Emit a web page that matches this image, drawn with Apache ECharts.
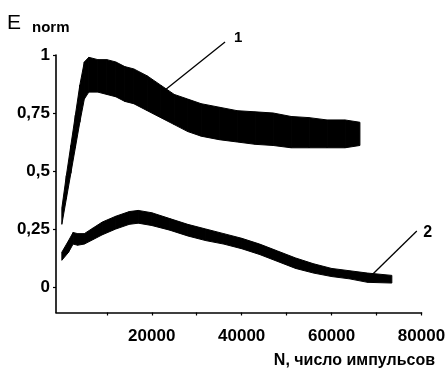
<!DOCTYPE html>
<html><head><meta charset="utf-8">
<script src="https://cdn.jsdelivr.net/npm/echarts@6/dist/echarts.min.js"></script>
<style>html,body{margin:0;padding:0;background:#fff}#c{width:447px;height:371px}</style>
</head><body><div id="c"></div>
<script>
// Curve 1 (noisy band): N, lower and upper envelope of E_norm
const curve1N    = [0, 1000, 2000, 3000, 4000, 5000, 6000, 8000, 10000, 12000, 14000, 16000, 19000, 22000, 25000, 28000, 31000, 35000, 39000, 43000, 47000, 51000, 55000, 59000, 63000, 66300];
const curve1Low  = [0.27, 0.38, 0.49, 0.60, 0.71, 0.81, 0.84, 0.84, 0.83, 0.82, 0.80, 0.79, 0.76, 0.73, 0.70, 0.67, 0.65, 0.635, 0.625, 0.615, 0.61, 0.60, 0.60, 0.60, 0.60, 0.61];
const curve1High = [0.34, 0.48, 0.61, 0.74, 0.87, 0.97, 0.99, 0.98, 0.98, 0.97, 0.95, 0.94, 0.91, 0.87, 0.83, 0.81, 0.79, 0.775, 0.76, 0.755, 0.75, 0.735, 0.73, 0.72, 0.72, 0.71];
// Curve 2
const curve2N    = [0, 1500, 2500, 3500, 5000, 7000, 9000, 12000, 15000, 17000, 20000, 24000, 28000, 32000, 36000, 40000, 44000, 48000, 52000, 56000, 60000, 64000, 68000, 73400];
const curve2Low  = [0.115, 0.15, 0.185, 0.18, 0.185, 0.205, 0.225, 0.25, 0.27, 0.275, 0.265, 0.245, 0.22, 0.20, 0.185, 0.165, 0.14, 0.11, 0.08, 0.06, 0.045, 0.035, 0.02, 0.017];
const curve2High = [0.15, 0.20, 0.235, 0.23, 0.23, 0.255, 0.28, 0.305, 0.325, 0.33, 0.32, 0.295, 0.27, 0.25, 0.23, 0.21, 0.185, 0.155, 0.125, 0.10, 0.08, 0.07, 0.06, 0.05];

const yTickValues = [0, 0.25, 0.5, 0.75, 1];
const yTickLabels = ['0', '0,25', '0,5', '0,75', '1'];
const xTickValues = [10000, 20000, 30000, 40000, 50000, 60000, 70000, 80000];
const xLabelValues = [20000, 40000, 60000, 80000];
const titleMain = 'E';
const titleSub = 'norm';
const xAxisName = 'N, число импульсов';
const curveNames = ['1', '2'];
// leader lines: [point on curve, label end] in data space, and label anchors
const leader1 = [[22950, 0.849], [36300, 1.056]];
const leader2 = [[68960, 0.052], [78960, 0.241]];
const label1At = [39200, 1.073];
const label2At = [81400, 0.233];

const FONT = "'Liberation Sans', Arial, sans-serif";
const chart = echarts.init(document.getElementById('c'));

// segments [N0, lo0, hi0, N1, lo1, hi1]
function segments(ns, lo, hi) {
  const out = [];
  for (let i = 0; i < ns.length - 1; i++) out.push([ns[i], lo[i], hi[i], ns[i + 1], lo[i + 1], hi[i + 1]]);
  return out;
}
function renderBand(params, api) {
  const p1 = api.coord([api.value(0), api.value(1)]);
  const p2 = api.coord([api.value(0), api.value(2)]);
  const p3 = api.coord([api.value(3), api.value(5)]);
  const p4 = api.coord([api.value(3), api.value(4)]);
  return { type: 'polygon', shape: { points: [p1, p2, p3, p4] }, style: { fill: '#000', stroke: '#000', lineWidth: 1 } };
}

chart.setOption({
  animation: false,
  backgroundColor: '#fff',
  grid: { left: 56, right: 25.5, top: 55, bottom: 58.5, containLabel: false, outerBoundsMode: 'none' },
  xAxis: {
    type: 'value', min: -1300, max: 80000,
    axisLine: { show: true, onZero: false, lineStyle: { color: '#000', width: 1.6 } },
    axisTick: { show: true, customValues: xTickValues, length: 3, lineStyle: { color: '#000', width: 1.2 } },
    axisLabel: { customValues: xLabelValues, color: '#000', fontSize: 17, fontWeight: 'bold', fontFamily: FONT, margin: 15, formatter: v => String(v) },
    splitLine: { show: false }
  },
  yAxis: {
    type: 'value', min: -0.11, max: 1,
    axisLine: { show: true, onZero: false, lineStyle: { color: '#000', width: 1.6 } },
    axisTick: { show: true, customValues: yTickValues, length: 3, lineStyle: { color: '#000', width: 1.2 } },
    axisLabel: {
      customValues: yTickValues, color: '#000', fontSize: 17, fontWeight: 'bold', fontFamily: FONT, margin: 6,
      formatter: v => { const i = yTickValues.findIndex(t => Math.abs(t - v) < 1e-9); return i >= 0 ? yTickLabels[i] : ''; }
    },
    splitLine: { show: false }
  },
  series: [
    { type: 'custom', renderItem: renderBand, data: segments(curve1N, curve1Low, curve1High), encode: { x: [0, 3], y: [1, 2, 4, 5] } },
    { type: 'custom', renderItem: renderBand, data: segments(curve2N, curve2Low, curve2High), encode: { x: [0, 3], y: [1, 2, 4, 5] } }
  ]
});

const px = p => chart.convertToPixel({ xAxisIndex: 0, yAxisIndex: 0 }, p);
const a1 = px(leader1[0]), b1 = px(leader1[1]), a2 = px(leader2[0]), b2 = px(leader2[1]);
const l1 = px(label1At), l2 = px(label2At);
const txt = (text, size, weight, extra) => Object.assign({ text, fontSize: size, fontWeight: weight, fontFamily: FONT, fill: '#000' }, extra || {});
chart.setOption({
  graphic: [
    { type: 'text', x: 7, y: 23, style: txt(titleMain, 21, 'normal', { verticalAlign: 'middle' }) },
    { type: 'text', x: 32, y: 28, style: txt(titleSub, 15, 'bold', { verticalAlign: 'middle' }) },
    { type: 'text', x: 435, y: 361, style: txt(xAxisName, 16, 'bold', { align: 'right', verticalAlign: 'middle' }) },
    { type: 'line', shape: { x1: a1[0], y1: a1[1], x2: b1[0], y2: b1[1] }, style: { stroke: '#000', lineWidth: 1.3 } },
    { type: 'line', shape: { x1: a2[0], y1: a2[1], x2: b2[0], y2: b2[1] }, style: { stroke: '#000', lineWidth: 1.3 } },
    { type: 'text', x: l1[0], y: l1[1], style: txt(curveNames[0], 15, 'bold', { align: 'center', verticalAlign: 'middle' }) },
    { type: 'text', x: l2[0], y: l2[1], style: txt(curveNames[1], 16, 'bold', { align: 'center', verticalAlign: 'middle' }) }
  ]
});
</script>
</body></html>
